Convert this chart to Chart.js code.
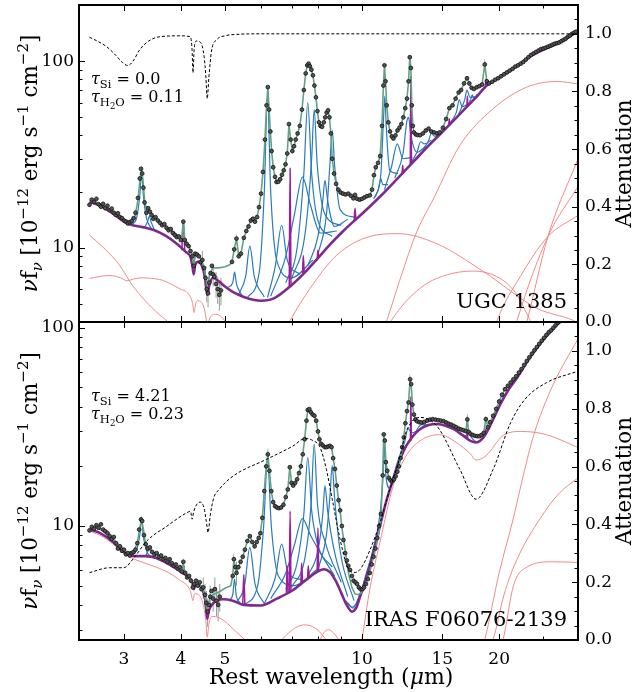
<!DOCTYPE html>
<html>
<head>
<meta charset="utf-8">
<script src="https://cdn.jsdelivr.net/npm/chart.js@4.4.1/dist/chart.umd.min.js"></script>
<style>
  html, body { margin: 0; padding: 0; background: #fff; }
  #wrap { position: relative; width: 637px; height: 692px; }
  #wrap canvas { position: absolute; left: 0; top: 0; }
</style>
</head>
<body>
<div id="wrap">
  <canvas id="bot" width="637" height="692"></canvas>
  <canvas id="top" width="637" height="692"></canvas>
</div>
<script>
// axis ticks
const X_LABELS = [3, 4, 5, 10, 15, 20];
const X_MINOR = [6, 7, 8, 9, 25];
const ATT_LABELS = [0, 0.2, 0.4, 0.6, 0.8, 1.0];
const ATT_MINOR = [0.05, 0.1, 0.15, 0.25, 0.3, 0.35, 0.45, 0.5, 0.55, 0.65, 0.7, 0.75, 0.85, 0.9, 0.95, 1.05];
const TOP_Y_MINOR = [4, 5, 6, 7, 8, 9, 20, 30, 40, 50, 60, 70, 80, 90];
const BOT_Y_MINOR = [3, 4, 5, 6, 7, 8, 9, 20, 30, 40, 50, 60, 70, 80, 90];

// ---------- UGC 1385 ----------
const topData = [
  [2.52,17.0],[2.55,18.1],[2.58,17.6],[2.61,18.3],[2.64,17.1],[2.67,16.6],[2.70,17.2],[2.73,16.3],[2.76,16.8],[2.79,15.9],
  [2.82,16.2],[2.85,15.4],[2.88,15.0],[2.91,15.3],[2.94,14.6],[2.97,14.4],[3.00,14.0],[3.03,13.8],[3.06,13.5],[3.09,13.7],
  [3.12,13.9],[3.15,14.4],[3.18,15.4],[3.22,18.5],[3.25,23.5],[3.27,26.5],[3.29,25.0],[3.31,21.0],[3.33,17.5],[3.36,15.4],
  [3.39,16.3],[3.42,15.6],[3.45,15.0],[3.48,14.3],[3.52,14.6],[3.56,14.0],[3.60,13.6],[3.64,13.2],[3.68,13.4],[3.72,12.8],
  [3.76,12.4],[3.80,12.6],[3.84,12.0],[3.88,11.7],[3.92,11.4],[3.96,11.5],[4.00,11.0],[4.05,13.8],[4.08,11.0],[4.12,10.5],
  [4.16,10.2],[4.20,9.6],[4.24,9.0],[4.27,8.0],[4.30,9.3],[4.34,9.2],[4.38,9.0],[4.42,8.4],[4.46,8.6],[4.50,7.8],
  [4.53,6.9],[4.56,6.0],[4.59,5.7],[4.62,6.5],[4.65,7.3],[4.68,8.0],[4.71,7.2],[4.74,7.0],[4.78,6.4],[4.82,6.0],
  [4.86,5.6],[4.90,5.9],
  [5.18,8.4],[5.24,9.8],[5.30,11.2],[5.36,9.0],[5.42,9.3],[5.50,11.3],[5.57,12.3],[5.63,13.0],[5.70,14.0],[5.76,14.3],
  [5.82,13.8],[5.88,14.6],[5.94,16.5],[6.00,19.5],[6.06,25.5],[6.12,38],[6.17,58],[6.21,72.6],[6.25,55],[6.29,42],
  [6.33,33],[6.38,27],[6.44,24],[6.49,22.5],[6.55,22.6],[6.61,23.3],[6.67,24.6],[6.73,26.0],[6.79,28],[6.85,32],
  [6.91,46],[6.97,38],[7.03,33],[7.09,35],[7.15,38],[7.22,41],[7.30,45],[7.38,55],[7.45,70],[7.52,86],
  [7.58,95],[7.63,97],[7.68,94],[7.74,90],[7.80,84],[7.86,74],[7.92,64],[7.98,54],[8.04,47],[8.10,45],
  [8.17,44.5],[8.24,47],[8.30,50],[8.36,53],[8.42,54.5],[8.48,50],[8.54,41],[8.60,30],[8.68,25],[8.77,22],
  [8.87,20.5],[8.97,19.8],[9.08,19.5],[9.20,19.3],[9.33,19.5],[9.45,19.0],[9.57,18.4],[9.65,19.2],[9.76,18.3],[9.88,18.1],
  [10.0,18.3],[10.12,18.6],[10.25,18.9],[10.40,19.1],[10.52,20.5],[10.62,24.5],[10.72,27],[10.84,28.5],[10.96,31],[11.06,45],
  [11.14,74],[11.20,95],[11.26,78],[11.33,58],[11.42,47],[11.52,42],[11.62,39.5],[11.72,38.5],[11.84,40],[11.96,42.5],
  [12.08,44],[12.20,46],[12.32,50],[12.44,56],[12.55,63],[12.65,78],[12.73,105],[12.80,92],[12.86,58],[12.93,45],
  [13.00,41.5],[13.12,40.5],[13.25,40.2],[13.41,40.1],[13.60,41],[13.80,42.5],[14.00,43.5],[14.20,42],[14.40,41.5],[14.60,41],
  [14.80,41.5],[15.05,44],[15.30,49],[15.55,56],[15.80,58],[16.05,63],[16.30,68],[16.50,70],[16.75,76],[17.00,81],
  [17.20,76],[17.40,72],[17.60,71],[17.85,72.5],[18.10,73.5],[18.35,75],[18.60,96],[18.80,78],[19.00,76],[19.30,77.5],
  [19.60,79.5],[19.90,81],[20.20,83],[20.50,85],[20.80,87],[21.10,89],[21.40,91],[21.70,93.5],[22.00,95],[22.30,97],
  [22.60,99],[22.90,102],[23.20,105],[23.50,108],[23.80,110],[24.10,112],[24.40,114],[24.70,116],[25.00,117],[25.30,118],
  [25.60,119.5],[25.90,121],[26.20,122.5],[26.50,124],[26.80,125],[27.10,126],[27.40,128],[27.70,130],[28.00,132],[28.30,135],
  [28.60,137],[28.90,140],[29.20,142],[29.50,144]
];
const topErr = [
  [4.46,7.6,9.6],[4.53,6.0,7.9],[4.56,5.1,7.0],[4.59,4.8,6.6],[4.62,5.6,7.5],[4.71,6.2,8.2],[4.78,5.4,7.4],
  [4.82,5.0,7.0],[4.86,4.6,6.6],[4.90,4.9,6.9]
];
const topModelStart = [
  [2.52,17.9],[2.6,17.6],[2.7,16.9],[2.85,15.6],[3.0,14.2],[3.1,13.8],[3.17,14.6],[3.22,18.0],[3.26,24.5],[3.28,26.2],
  [3.30,23.5],[3.33,18.0],[3.37,15.5],[3.41,16.0],[3.46,15.0],[3.6,13.7],[3.8,12.5],[3.95,11.6],[4.02,11.2],[4.05,13.9],
  [4.08,11.1],[4.17,10.1],[4.23,9.3],[4.27,8.1],[4.31,9.2],[4.42,8.8],[4.5,7.9],[4.57,6.3],[4.63,7.2],[4.7,7.8],
  [4.85,7.8],[5.0,7.9],[5.12,8.1]
];
const topCont = [
  [2.52,17.6],[2.65,16.9],[2.8,15.6],[2.95,14.2],[3.1,13.3],[3.3,12.9],[3.5,12.4],[3.7,11.6],[3.9,10.6],[4.1,9.5],
  [4.2,8.9],[4.24,8.0],[4.27,7.2],[4.3,8.1],[4.36,8.4],[4.45,8.0],[4.52,6.9],[4.57,5.6],[4.62,6.3],[4.7,6.9],
  [4.85,6.6],[5.0,6.2],[5.2,5.8],[5.5,5.45],[5.8,5.25],[6.0,5.2],[6.4,5.35],[7.0,6.3],[7.5,7.4],[8.0,8.8],
  [8.5,10.4],[9.0,12.0],[9.5,13.6],[10.0,15.2],[11.0,19.0],[12.0,23.7],[13.0,29.1],[14.0,35.3],[15.0,41.7],[16.0,48.9],
  [17.0,57],[18.0,66],[18.7,73.4],[19.5,78.5],[20.5,85],[22.0,95],[23.4,106],[25.0,115],[27.0,125],[29.8,145]
];
const topPah = [
  [[3.12,13.3],[3.2,14.5],[3.25,19],[3.28,25],[3.31,19],[3.36,14.5],[3.45,12.6]],
  [[3.33,12.9],[3.38,13.8],[3.41,14.8],[3.44,13.8],[3.5,12.4]],
  [[5.05,6.1],[5.2,6.5],[5.25,7.4],[5.3,6.4],[5.45,5.55]],
  [[5.35,5.6],[5.55,7.0],[5.67,10.2],[5.8,7.0],[6.1,5.45]],
  [[5.6,5.4],[5.95,7.5],[6.1,20],[6.2,65],[6.3,20],[6.5,8.5],[7.0,6.9],[7.8,8.6]],
  [[6.2,5.4],[6.45,8],[6.66,13.2],[6.85,8.6],[7.3,7.2]],
  [[6.3,5.5],[6.8,9],[7.1,15],[7.4,23.9],[7.7,17],[8.1,12],[8.8,12.3]],
  [[6.8,6.5],[7.2,10],[7.45,25],[7.6,60],[7.75,25],[8.0,14],[8.6,11.5]],
  [[7.0,6.8],[7.5,12],[7.75,30],[7.85,55],[7.97,28],[8.3,15],[9.0,13.2]],
  [[7.6,8.0],[8.0,11.5],[8.2,18],[8.29,23],[8.4,18],[8.7,13],[9.3,14.2]],
  [[8.0,9.2],[8.35,15],[8.5,28],[8.6,42.6],[8.7,28],[8.95,16],[9.6,14.6]],
  [[10.6,18.3],[10.85,20.5],[11.0,23.5],[11.1,21.8],[11.4,21.8]],
  [[10.7,18.7],[11.0,25],[11.15,50],[11.22,65],[11.3,45],[11.5,26],[12.0,25]],
  [[11.2,20.5],[11.6,27],[11.95,36],[12.3,30],[12.9,30.5]],
  [[11.8,23.6],[12.3,32],[12.55,48],[12.65,50],[12.8,40],[13.2,32.5],[13.8,35]],
  [[12.8,28.5],[13.2,32.5],[13.45,37],[13.7,36],[14.2,37.8]],
  [[13.6,33.5],[14.0,37.5],[14.2,41],[14.45,39.5],[14.9,41.8]],
  [[15.6,46.5],[16.1,53],[16.35,62],[16.6,57],[17.0,58.5]],
  [[16.3,52],[16.8,62],[17.0,70],[17.25,64],[17.8,64.5]],
  [[17.1,58.5],[17.35,63],[17.45,66],[17.6,63],[17.9,66.5]]
];
const topLines = [
  [[4.02,9.7],[4.05,14.0],[4.08,9.55]],
  [[6.92,6.2],[6.95,26.6],[6.98,6.3]],
  [[7.40,7.3],[7.43,9.1],[7.46,7.4]],
  [[7.97,8.7],[8.0,9.7],[8.03,8.8]],
  [[9.61,14.0],[9.65,16.3],[9.69,14.2]],
  [[12.24,24.6],[12.28,27.7],[12.32,24.9]],
  [[12.76,27.6],[12.8,83],[12.84,27.9]],
  [[15.5,45.3],[15.55,49],[15.6,45.7]],
  [[16.99,56.6],[17.03,65],[17.07,57.2]],
  [[18.66,72.9],[18.7,80],[18.74,73.4]]
];
const topRed = [
  [[2.52,11.7],[2.73,9.8],[2.93,8.1],[3.13,6.3],[3.34,5.2],[3.58,4.4],[3.73,4.05],[3.9,3.6]],
  [[2.52,6.85],[2.78,7.1],[2.95,6.9],[3.05,6.65],[3.15,6.8],[3.29,6.9],[3.45,6.85],[3.64,6.7],[3.96,6.06],[4.17,5.6],
   [4.24,5.1],[4.28,4.5],[4.31,5.0],[4.35,5.2],[4.5,4.75],[4.55,4.1],[4.58,3.7],[4.63,4.2],[4.77,4.4],[4.92,4.25],[5.05,3.9]],
  [[6.8,3.7],[6.95,4.08],[7.69,6.06],[8.8,9.13],[10.4,11.5],[12.0,11.9],[14.6,10.5],[18.5,7.44],[24.2,4.74],[29.1,4.08],[29.8,3.95]],
  [[11.1,3.6],[11.33,4.08],[12.1,6.7],[13.19,12.2],[14.35,18.3],[16.4,35.4],[19.4,55.6],[23.0,72.6],[26.8,77.8],[29.8,75.5]],
  [[11.3,3.6],[11.6,4.08],[13.4,6.06],[15.2,7.1],[17.5,7.5],[20.1,6.85],[21.7,5.75],[23.4,4.08],[24.0,3.6]],
  [[19.3,3.3],[19.8,4.08],[22.25,7.0],[25.6,11.5],[29.8,14.9]],
  [[21.4,3.3],[21.9,4.08],[25.6,11.5],[29.8,21.3]],
  [[22.5,3.3],[23.05,4.08],[25.6,11.5],[29.8,30.0]]
];
const topAtt = [
  [2.52,0.988],[2.62,0.975],[2.75,0.955],[2.88,0.925],[2.98,0.9],[3.06,0.89],[3.14,0.905],[3.25,0.945],[3.4,0.975],[3.6,0.99],
  [4.0,0.993],[4.19,0.99],[4.23,0.955],[4.255,0.865],[4.28,0.95],[4.33,0.975],[4.42,0.97],[4.5,0.92],[4.54,0.85],[4.57,0.775],
  [4.61,0.85],[4.67,0.94],[4.8,0.98],[5.0,0.993],[5.3,0.998],[6.0,1.0],[29.8,1.0]
];

// ---------- IRAS F06076-2139 ----------
const botData = [
  [2.52,9.5],[2.55,9.9],[2.58,9.7],[2.61,10.1],[2.64,9.8],[2.67,10.2],[2.70,9.6],[2.73,9.4],[2.76,9.2],[2.79,8.9],
  [2.82,8.6],[2.85,8.8],[2.88,8.2],[2.91,7.7],[2.94,7.9],[2.97,7.5],[3.00,7.6],[3.03,7.2],[3.06,7.3],[3.09,7.1],
  [3.12,7.3],[3.15,7.4],[3.18,7.6],[3.21,8.2],[3.24,9.6],[3.27,10.8],[3.29,10.6],[3.32,9.0],[3.35,8.1],[3.38,7.7],
  [3.42,7.8],[3.46,7.4],[3.50,7.2],[3.54,7.3],[3.58,7.0],[3.62,7.1],[3.66,6.8],[3.70,6.9],[3.74,6.6],[3.78,6.8],
  [3.82,6.5],[3.86,6.3],[3.90,6.4],[3.94,6.1],[3.98,6.2],[4.02,5.9],[4.05,6.6],[4.09,5.8],[4.13,5.5],[4.17,5.6],
  [4.21,5.3],[4.25,4.9],[4.28,5.1],[4.32,5.3],[4.36,5.0],[4.40,5.2],[4.44,4.8],[4.48,4.9],[4.52,4.5],[4.55,4.1],
  [4.58,3.7],[4.61,4.0],[4.64,4.4],[4.67,4.7],[4.71,4.3],[4.75,4.8],[4.79,4.2],[4.83,4.0],[4.87,4.4],
  [5.20,5.6],[5.23,6.8],[5.27,6.2],[5.30,5.8],[5.35,6.2],[5.41,6.6],[5.47,7.0],[5.53,7.6],[5.60,8.4],[5.67,8.9],
  [5.74,8.3],[5.81,7.9],[5.87,8.3],[5.93,8.7],[5.98,9.2],[6.04,11],[6.10,15],[6.16,20],[6.21,23],[6.26,19],
  [6.32,15],[6.38,13.2],[6.44,12.6],[6.50,12.4],[6.57,12.3],[6.64,12.4],[6.72,12.8],[6.80,14],[6.87,15.3],[6.94,19.8],
  [7.00,16.5],[7.06,16],[7.13,16.5],[7.20,17.2],[7.27,18.5],[7.34,20],[7.41,23],[7.48,27.4],[7.55,34],[7.60,38.5],
  [7.66,38.9],[7.72,37.5],[7.79,36.5],[7.86,36],[7.93,34],[8.00,30],[8.06,27.4],[8.13,26],[8.20,25.5],[8.28,25],
  [8.35,25],[8.43,25.2],[8.50,25.4],[8.57,25],[8.64,22],[8.72,19.4],[8.80,16],[8.88,13.5],[8.95,12.0],[9.03,10.0],
  [9.10,8.5],[9.18,7.3],[9.26,6.7],[9.33,6.3],[9.41,6.0],[9.50,5.6],[9.58,5.3],[9.67,5.2],[9.75,5.1],[9.84,4.9],
  [9.93,4.8],[10.02,4.8],[10.10,4.9],[10.20,5.1],[10.30,5.4],[10.40,5.8],[10.50,6.4],[10.60,7.0],[10.70,7.7],[10.80,8.7],
  [10.90,10],[11.00,11.5],[11.10,18],[11.16,29],[11.22,27],[11.28,21],[11.36,19],[11.45,17.5],[11.55,17.0],[11.65,16.8],
  [11.75,17.2],[11.85,17.8],[11.95,18.8],[12.05,20],[12.15,22],[12.25,25],[12.35,28],[12.45,33],[12.55,38],[12.65,42],
  [12.75,55],[12.82,52],[12.90,41],[13.00,36.5],[13.10,34.5],[13.20,33.8],[13.35,33.4],[13.50,33.3],[13.70,33.5],[13.90,34],
  [14.10,34.4],[14.30,34.6],[14.50,34.4],[14.70,34.2],[14.90,34],[15.10,33.8],[15.30,33.3],[15.50,32.8],[15.70,32.5],[15.90,32],
  [16.10,31.5],[16.30,31],[16.50,30.7],[16.70,30.4],[16.90,30.1],[17.03,34.5],[17.15,29.8],[17.30,29.2],[17.50,28.8],[17.70,28.5],
  [17.90,28.4],[18.10,28.4],[18.30,28.8],[18.50,29.5],[18.70,34.6],[18.90,31.5],[19.10,33.4],[19.40,36],[19.70,39],[20.00,42.5],
  [20.30,46],[20.60,49],[20.90,51],[21.20,53],[21.50,55],[21.80,57],[22.10,59.5],[22.40,62],[22.70,65],[23.00,68],
  [23.30,71],[23.60,74],[23.90,77],[24.20,80],[24.50,83],[24.80,86],[25.10,89],[25.40,92],[25.70,95],[26.00,97],
  [26.30,100],[26.60,103],[26.90,106],[27.20,108],[27.50,111]
];
const botErr = [
  [4.48,4.3,5.5],[4.52,3.9,5.1],[4.55,3.5,4.7],[4.58,3.1,4.3],[4.64,3.8,5.0],[4.71,3.7,4.9],[4.75,4.1,5.5],
  [4.79,3.5,4.9],[4.83,3.3,4.7],[4.87,3.7,5.1],[5.30,5.0,6.6]
];
const botModelStart = [
  [2.52,9.7],[2.6,9.8],[2.7,9.5],[2.8,8.9],[2.95,7.9],[3.05,7.35],[3.15,7.45],[3.21,8.2],[3.25,9.8],[3.28,10.8],
  [3.31,9.6],[3.35,8.0],[3.4,7.6],[3.5,7.3],[3.65,6.9],[3.8,6.5],[3.95,6.1],[4.02,5.9],[4.05,6.5],[4.08,5.85],
  [4.2,5.4],[4.25,4.95],[4.29,5.15],[4.4,5.1],[4.5,4.6],[4.57,3.8],[4.63,4.3],[4.7,4.5],[4.85,4.65],[5.0,4.85],[5.15,5.0]
];
const botModelTrough = [
  [9.03,9.8],[9.15,8.0],[9.25,6.7],[9.35,5.7],[9.5,4.9],[9.65,4.55],[9.8,4.5],[9.95,4.6],[10.1,4.85],[10.25,5.3],
  [10.4,5.9],[10.55,6.7],[10.7,7.6],[10.85,8.8],[11.0,11.0]
];
const botCont = [
  [2.52,9.6],[2.66,9.2],[2.84,8.3],[3.0,7.35],[3.1,7.08],[3.2,7.05],[3.35,7.05],[3.53,6.9],[3.77,6.4],[4.03,5.8],
  [4.2,5.4],[4.24,5.1],[4.27,4.8],[4.31,5.05],[4.4,5.0],[4.5,4.5],[4.54,4.0],[4.57,3.4],[4.61,3.75],[4.68,4.0],
  [4.8,4.2],[4.94,4.27],[5.2,4.2],[5.5,4.0],[6.0,3.97],[6.5,4.3],[7.0,4.7],[7.5,5.3],[8.0,5.9],[8.25,6.05],
  [8.5,5.85],[8.75,5.3],[9.0,4.6],[9.25,4.0],[9.5,3.7],[9.7,3.85],[9.9,4.4],[10.2,5.4],[10.6,7.4],[10.95,10.0],
  [11.3,13.3],[11.7,17.2],[12.1,21.5],[12.5,25.4],[13.0,28.8],[13.4,30.8],[14.0,32.3],[14.6,32.7],[15.3,32.0],[15.9,30.8],
  [16.6,28.8],[17.3,26.9],[17.8,26.4],[18.2,27.0],[18.6,28.6],[19.4,34.5],[20.1,41],[21.0,49],[21.9,56],[23.0,67],
  [24.0,77],[25.0,87],[26.2,98],[27.5,110],[29.8,135]
];
const botPah = [
  [[3.12,7.1],[3.2,7.6],[3.25,9.0],[3.28,10.8],[3.31,8.8],[3.37,7.4],[3.45,7.0]],
  [[3.35,7.05],[3.39,7.5],[3.42,7.8],[3.46,7.4],[3.52,6.95]],
  [[5.1,4.2],[5.2,4.5],[5.25,5.4],[5.29,4.5],[5.4,4.1]],
  [[5.3,4.1],[5.52,5.0],[5.67,7.8],[5.82,5.1],[6.1,4.05]],
  [[5.5,4.0],[5.9,5.0],[6.08,10],[6.2,21.7],[6.32,10],[6.55,5.6],[7.1,5.0],[8.0,6.1]],
  [[6.1,4.05],[6.45,5.5],[6.66,8.1],[6.88,5.8],[7.4,5.35]],
  [[6.3,4.3],[6.8,5.8],[7.1,8.0],[7.4,10.9],[7.7,9.0],[8.1,7.3],[8.7,5.6]],
  [[6.8,4.8],[7.2,6.5],[7.45,11.5],[7.6,22.2],[7.75,12],[8.0,8.0],[8.6,6.2]],
  [[7.0,4.9],[7.5,7.0],[7.73,13],[7.85,25.9],[7.98,13],[8.3,8.3],[9.0,5.2]],
  [[7.6,5.6],[8.0,7.5],[8.2,11.5],[8.29,16.0],[8.4,12],[8.7,7.4],[9.3,4.4]],
  [[8.0,6.0],[8.35,9.0],[8.5,14],[8.6,20.2],[8.7,14],[8.95,7.5],[9.6,4.2]],
  [[9.2,4.2],[9.5,3.9],[9.8,4.2],[10.2,5.7],[10.6,7.8],[10.95,11.5],[11.12,18],[11.2,26],[11.28,18],[11.5,15.5],[12.0,20.7]],
  [[9.3,4.1],[9.55,3.85],[9.8,4.3],[10.3,6.0],[11.0,10.6],[12.0,21.5],[12.4,26.5],[12.62,31],[12.85,29.5],[13.3,30.5]],
  [[13.0,28.8],[13.3,31.5],[13.5,32.5],[13.75,32.4],[14.2,32.6]],
  [[16.5,29],[16.9,28.6],[17.1,29.8],[17.4,27.9],[17.8,26.5]]
];
const botLines = [
  [[4.02,5.85],[4.05,6.4],[4.08,5.8]],
  [[5.47,4.02],[5.5,5.7],[5.53,4.0]],
  [[6.82,4.6],[6.85,6.3],[6.88,4.62]],
  [[6.92,4.65],[6.95,11.9],[6.98,4.7]],
  [[7.34,5.1],[7.37,6.5],[7.4,5.15]],
  [[7.59,5.4],[7.62,6.3],[7.65,5.45]],
  [[7.97,5.85],[8.0,9.8],[8.03,5.9]],
  [[12.25,23.5],[12.28,25.5],[12.31,23.7]],
  [[12.77,26.7],[12.8,45],[12.83,27]],
  [[17.0,27.3],[17.03,30.8],[17.06,27.2]],
  [[18.67,29],[18.7,31],[18.73,29.2]]
];
const botRed = [
  [[2.52,9.45],[2.7,8.8],[2.9,7.8],[3.1,6.95],[3.3,6.55],[3.53,6.2],[3.77,5.8],[3.96,5.37],[4.18,4.8],[4.22,4.5],
   [4.25,4.2],[4.29,4.55],[4.38,4.5],[4.48,4.0],[4.54,3.3],[4.57,2.75],[4.61,3.2],[4.68,3.5],[4.85,3.45],[5.0,3.3],[5.27,2.95],[5.6,2.6]],
  [[6.5,2.5],[6.8,2.8],[7.2,3.1],[7.5,3.17],[7.9,3.05],[8.2,2.8],[8.4,2.6]],
  [[8.05,2.6],[8.25,2.9],[8.45,3.0],[8.7,2.85],[8.95,2.6]],
  [[9.9,2.4],[10.0,2.7],[10.4,4.8],[10.95,8.3],[11.7,15.9],[12.5,22.6],[13.4,26.9],[14.8,28.9],[16.1,26.4],[17.3,23.1],
   [17.8,21.5],[18.7,22.6],[20.4,28.6],[22.4,30.0],[25.4,28.9],[29.8,24.9]],
  [[18.2,2.3],[18.6,2.67],[20.0,5.8],[21.5,11],[22.6,18],[23.8,28.6],[26.2,50.9],[29.8,88]],
  [[19.0,2.4],[19.4,2.67],[20.5,4.5],[21.9,6.8],[24.6,10.9],[27.0,14.5],[29.8,17.5]],
  [[20.0,2.4],[20.4,2.67],[21.5,5.0],[23.0,6.2],[26.2,6.6],[29.8,6.55]]
];
const botAtt = [
  [2.52,0.233],[2.79,0.25],[3.0,0.25],[3.14,0.28],[3.37,0.343],[3.73,0.394],[4.12,0.44],[4.2,0.445],[4.235,0.418],[4.27,0.445],
  [4.41,0.477],[4.5,0.455],[4.55,0.41],[4.59,0.372],[4.64,0.43],[4.72,0.49],[4.85,0.52],[5.21,0.567],[6.17,0.625],[7.05,0.671],
  [7.5,0.697],[7.8,0.69],[8.09,0.666],[8.35,0.59],[8.6,0.487],[8.95,0.348],[9.27,0.256],[9.58,0.233],[9.9,0.244],[10.4,0.31],
  [10.95,0.406],[11.5,0.52],[12.1,0.63],[12.5,0.72],[13.4,0.77],[14.6,0.74],[16.4,0.59],[17.8,0.487],[19.4,0.59],[21.2,0.752],
  [22.8,0.833],[25.4,0.89],[29.8,0.93]
];

const FONT = '"DejaVu Serif", serif';
const X_MIN = 2.39, X_MAX = 29.8;

const xy = arr => arr.map(p => ({ x: p[0], y: p[1] }));

function curve(arr, color, width, order) {
  return {
    data: xy(arr), borderColor: color, borderWidth: width, pointRadius: 0,
    fill: false, order: order, yAxisID: 'y', cubicInterpolationMode: 'monotone'
  };
}

// text with sub/superscripts: [text, size, dy, italic]
function drawRuns(ctx, runs, x, y, align) {
  const fnt = r => (r[3] ? 'italic ' : '') + r[1] + 'px ' + FONT;
  let w = 0;
  runs.forEach(r => { ctx.font = fnt(r); w += ctx.measureText(r[0]).width; });
  let cx = align === 'center' ? x - w / 2 : (align === 'right' ? x - w : x);
  ctx.textAlign = 'left';
  ctx.textBaseline = 'alphabetic';
  runs.forEach(r => {
    ctx.font = fnt(r);
    ctx.fillText(r[0], cx, y + r[2]);
    cx += ctx.measureText(r[0]).width;
  });
}

function decor(p) {
  return {
    id: 'decor',
    beforeDatasetsDraw(chart) {
      const { ctx, scales: { x, y } } = chart;
      ctx.save();
      ctx.strokeStyle = '#9a9a9a';
      ctx.lineWidth = 1;
      p.err.forEach(e => {
        const px = x.getPixelForValue(e[0]);
        ctx.beginPath();
        ctx.moveTo(px, y.getPixelForValue(e[1]));
        ctx.lineTo(px, y.getPixelForValue(e[2]));
        ctx.stroke();
      });
      ctx.restore();
    },
    afterDraw(chart) {
      const { ctx, chartArea: a, scales: { x, y, y2 } } = chart;
      ctx.save();
      ctx.strokeStyle = '#000';
      ctx.fillStyle = '#000';
      ctx.lineWidth = 1;
      const seg = (x1, y1, x2, y2_) => { ctx.beginPath(); ctx.moveTo(x1, y1); ctx.lineTo(x2, y2_); ctx.stroke(); };
      X_LABELS.concat(X_MINOR).forEach(v => {
        const px = Math.round(x.getPixelForValue(v)) + 0.5;
        const len = X_LABELS.includes(v) ? 6 : 3.5;
        seg(px, a.bottom, px, a.bottom - len);
        seg(px, a.top, px, a.top + len);
      });
      [10, 100].concat(p.yMinor).forEach(v => {
        if (v < p.yMin || v > p.yMax) return;
        const py = Math.round(y.getPixelForValue(v)) + 0.5;
        const len = (v === 10 || v === 100) ? 6 : 3.5;
        seg(a.left, py, a.left + len, py);
      });
      ATT_LABELS.concat(ATT_MINOR).forEach(v => {
        const py = Math.round(y2.getPixelForValue(v)) + 0.5;
        const len = ATT_LABELS.includes(v) ? 6 : 3.5;
        seg(a.right, py, a.right - len, py);
      });
      ctx.lineWidth = 2;
      ctx.strokeRect(a.left, a.top, a.right - a.left, a.bottom - a.top);

      // left axis title
      const cy = (a.top + a.bottom) / 2;
      ctx.save();
      ctx.translate(37, cy);
      ctx.rotate(-Math.PI / 2);
      drawRuns(ctx, [['ν', 21.5, 0, true], ['f', 21.5, 0], ['ν', 15, 5, true], [' [10', 21.5, 0], ['−12', 15, -9],
        [' erg s', 21.5, 0], ['−1', 15, -9], [' cm', 21.5, 0], ['−2', 15, -9], [']', 21.5, 0]], 0, 0, 'center');
      ctx.restore();
      // right axis title
      ctx.save();
      ctx.translate(631, cy);
      ctx.rotate(-Math.PI / 2);
      drawRuns(ctx, [['Attenuation', 21.5, 0]], 0, 0, 'center');
      ctx.restore();

      // optical depths
      drawRuns(ctx, [['τ', 16, 0, true], ['Si', 11.5, 4], [' = ' + p.tauSi, 16, 0]], 91, a.top + p.tauY, 'left');
      drawRuns(ctx, [['τ', 16, 0, true], ['H', 11.5, 4], ['2', 8.5, 6.5], ['O', 11.5, 4], [' = ' + p.tauH2O, 16, 0]],
        91, a.top + p.tauY + 18, 'left');
      drawRuns(ctx, [[p.name, 21, 0]], 567, a.bottom - 14, 'right');

      if (p.showX) {
        drawRuns(ctx, [['Rest wavelength (', 22, 0], ['μ', 22, 0, true], ['m)', 22, 0]], 331, 684, 'center');
      }
      ctx.restore();
    }
  };
}

// keep the plot frame exactly where the layout puts it
function noPad(s) {
  s.paddingTop = 0; s.paddingBottom = 0; s.paddingLeft = 0; s.paddingRight = 0;
}

function buildPanel(id, p) {
  const sets = [];
  p.red.forEach(c => sets.push(curve(c, '#f08a8a', 1, 60)));
  p.pah.forEach(c => sets.push(curve(c, '#2b7bba', 1.2, 50)));
  p.lines.forEach(c => sets.push(curve(c, '#9c1c9c', 1.5, 40)));
  sets.push(curve(p.cont, '#7d2a8c', 2.6, 35));
  const model = curve(p.model, '#63a383', 1.6, 20);
  model.cubicInterpolationMode = 'default';
  model.tension = 0;
  sets.push(model);
  sets.push({
    data: xy(p.data), showLine: false, pointRadius: 1.9, pointBackgroundColor: '#555',
    pointBorderColor: '#111', pointBorderWidth: 0.8, order: 10, yAxisID: 'y'
  });
  const att = curve(p.att, '#000', 1, 5);
  att.yAxisID = 'y2';
  att.borderDash = [3, 2];
  sets.push(att);

  const tickFont = { family: FONT, size: 17 };
  return new Chart(document.getElementById(id), {
    type: 'line',
    data: { datasets: sets },
    options: {
      responsive: false,
      animation: false,
      events: [],
      layout: { padding: { top: p.padTop, left: 0, right: 0, bottom: 0 } },
      plugins: { legend: { display: false }, tooltip: { enabled: false } },
      scales: {
        x: {
          type: 'logarithmic', min: X_MIN, max: X_MAX,
          grid: { display: false, drawTicks: false }, border: { display: false },
          afterBuildTicks: s => { s.ticks = X_LABELS.map(v => ({ value: v })); },
          afterFit: s => { s.height = p.xHeight; noPad(s); },
          ticks: { display: p.showX, autoSkip: false, maxRotation: 0, padding: 9, color: '#000', font: tickFont,
                   callback: v => String(v) }
        },
        y: {
          type: 'logarithmic', position: 'left', min: p.yMin, max: p.yMax,
          grid: { display: false, drawTicks: false }, border: { display: false },
          afterBuildTicks: s => { s.ticks = [10, 100].map(v => ({ value: v })); },
          afterFit: s => { s.width = 79; noPad(s); },
          ticks: { padding: 5, color: '#000', font: tickFont, callback: v => String(v) }
        },
        y2: {
          type: 'linear', position: 'right', min: 0, max: 1.1,
          grid: { display: false, drawTicks: false }, border: { display: false },
          afterBuildTicks: s => { s.ticks = ATT_LABELS.map(v => ({ value: v })); },
          afterFit: s => { s.width = 59; noPad(s); },
          ticks: { padding: 7, color: '#000', font: tickFont, callback: v => Number(v).toFixed(1) }
        }
      }
    },
    plugins: [decor(p)]
  });
}

buildPanel('top', {
  data: topData, err: topErr,
  model: topModelStart.concat(topData.filter(p => p[0] > 5.15)),
  cont: topCont, pah: topPah, lines: topLines, red: topRed, att: topAtt,
  yMin: 4, yMax: 200, yMinor: TOP_Y_MINOR,
  padTop: 5, xHeight: 370, showX: false,
  tauSi: '0.0', tauH2O: '0.11', tauY: 79, name: 'UGC 1385'
});

buildPanel('bot', {
  data: botData, err: botErr,
  model: botModelStart.concat(botData.filter(p => p[0] >= 5.2 && p[0] < 9.0), botModelTrough,
                              botData.filter(p => p[0] >= 11.1)),
  cont: botCont, pah: botPah, lines: botLines, red: botRed, att: botAtt,
  yMin: 2.66, yMax: 107, yMinor: BOT_Y_MINOR,
  padTop: 322, xHeight: 52, showX: true,
  tauSi: '4.21', tauH2O: '0.23', tauY: 79, name: 'IRAS F06076-2139'
});
</script>
</body>
</html>
